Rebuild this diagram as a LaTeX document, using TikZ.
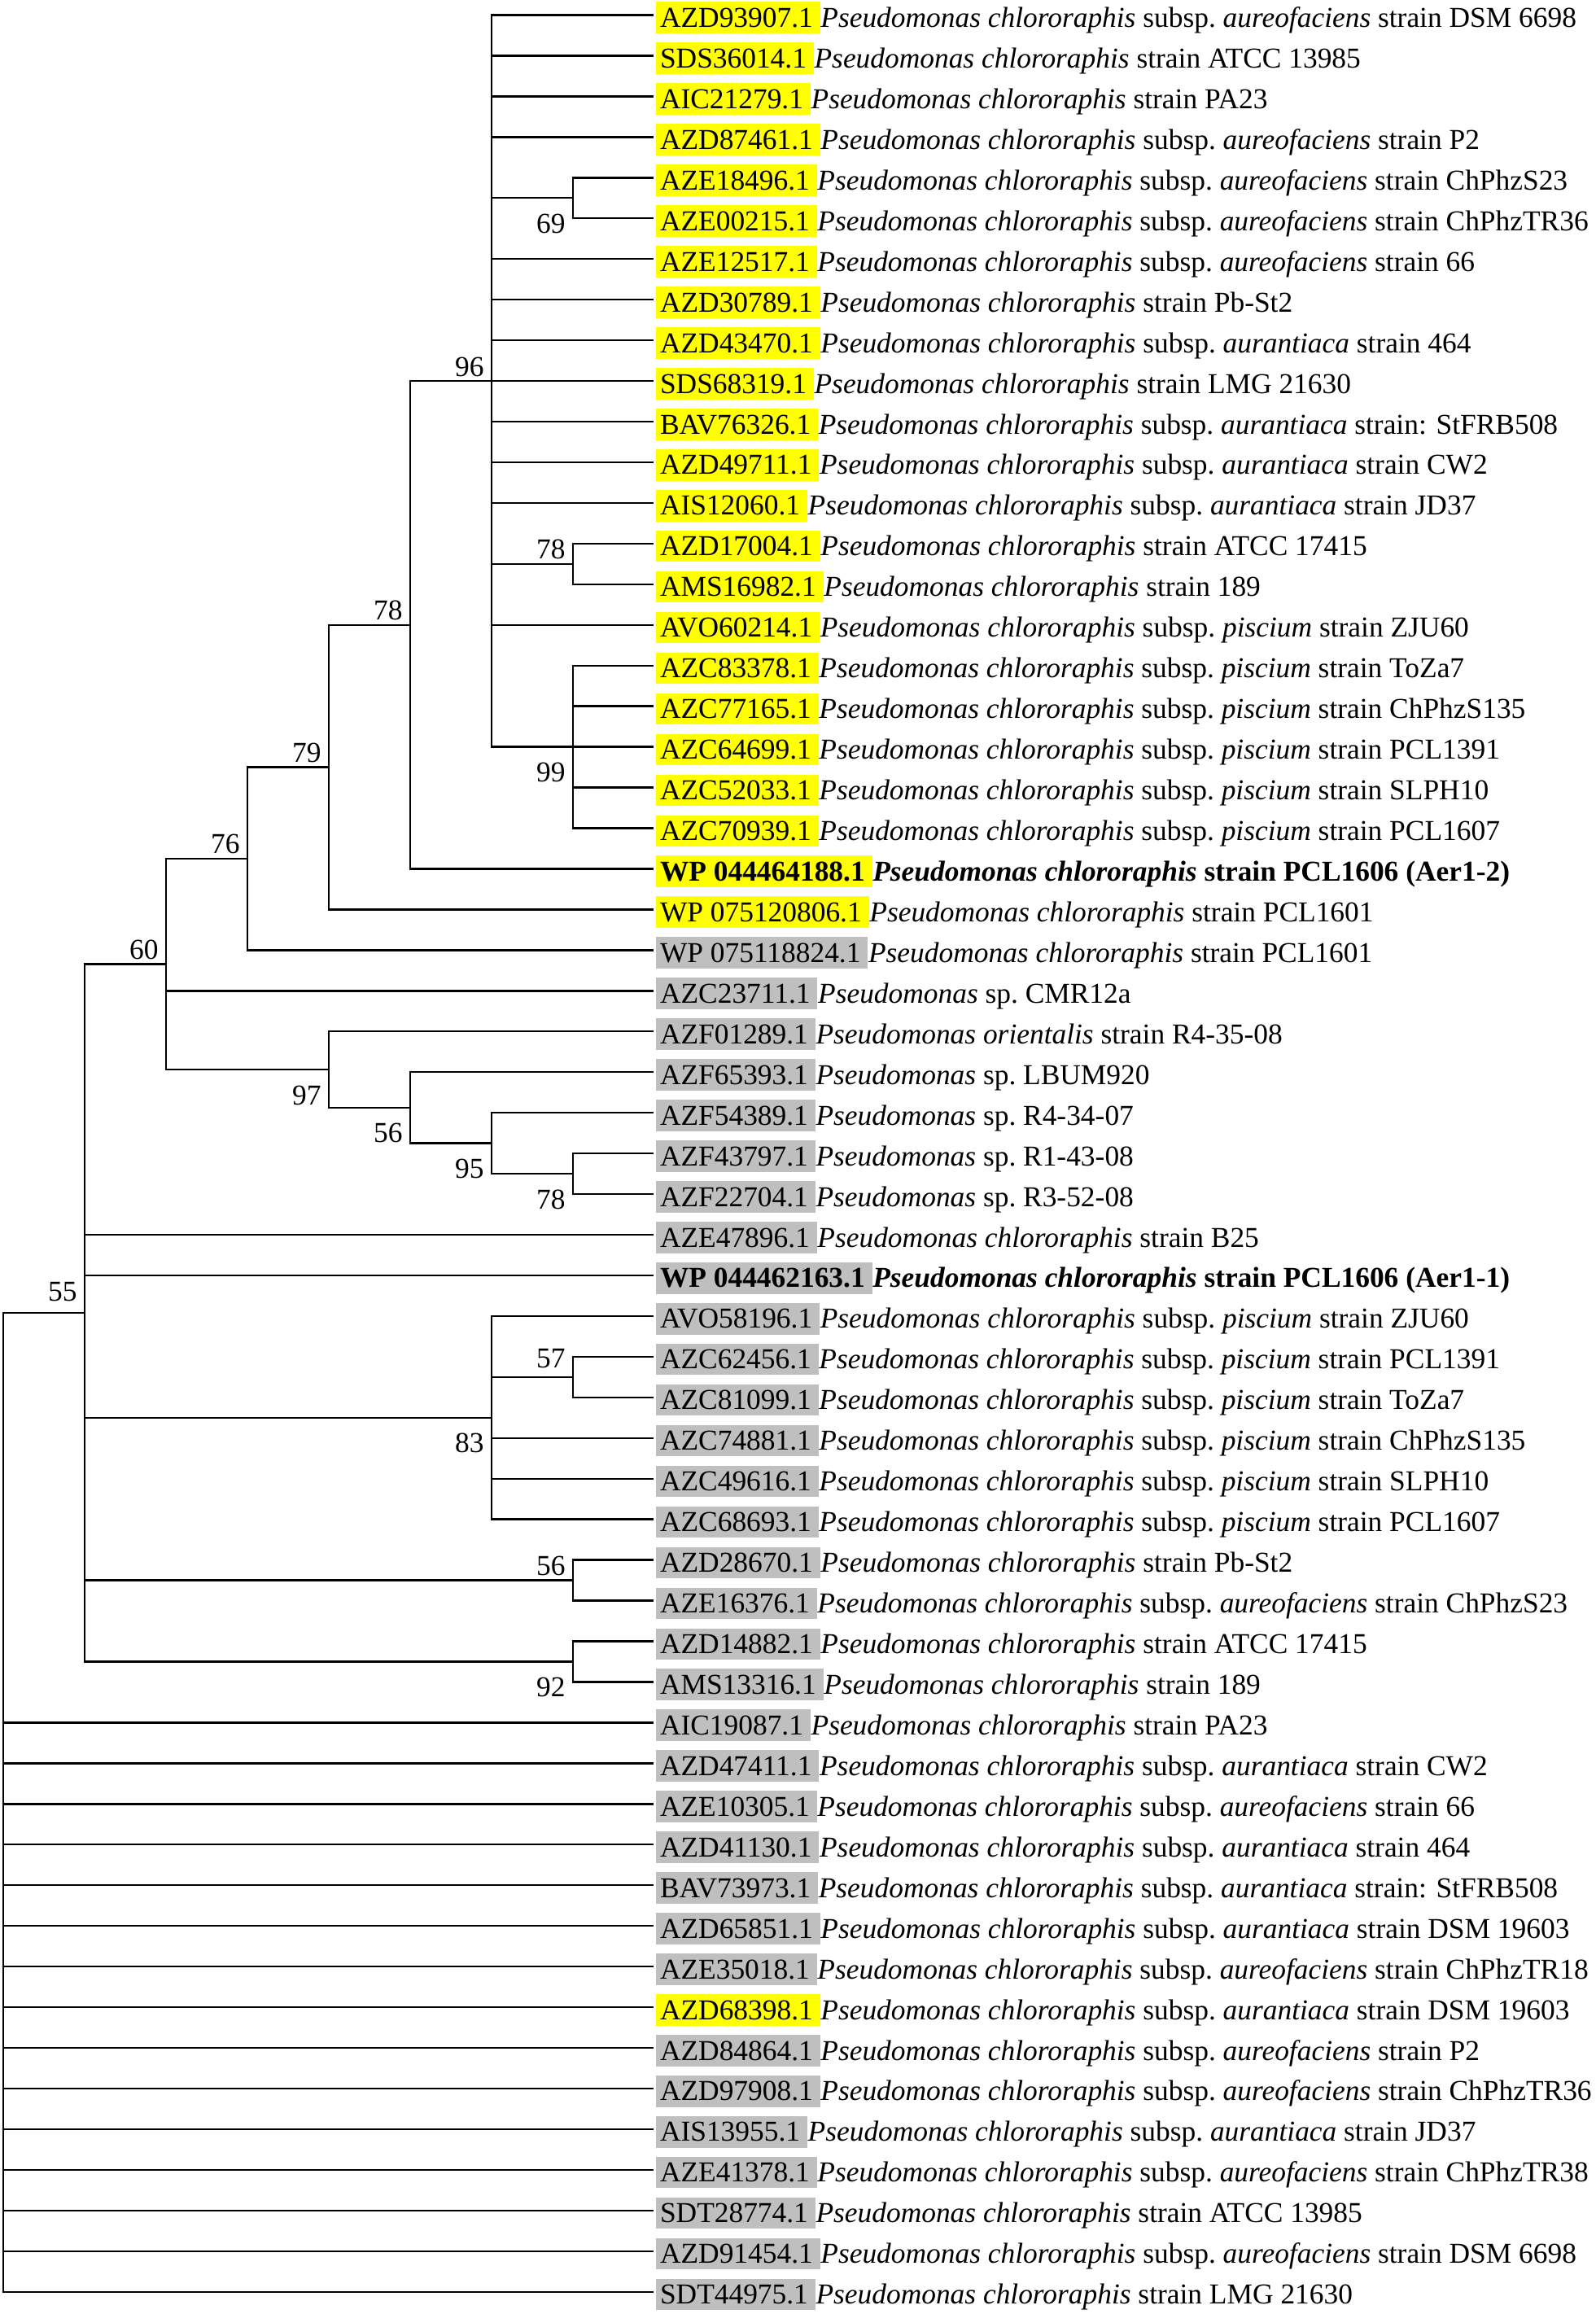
\documentclass[tikz,border=0pt]{standalone}
\usepackage{fontspec}
\setmainfont{Liberation Serif}
\usetikzlibrary{calc}

\definecolor{hlyellow}{RGB}{255,255,0}
\definecolor{hlgray}{RGB}{191,191,191}

\newcommand{\pchl}{\textit{Pseudomonas chlororaphis}}
\newcommand{\pseu}{\textit{Pseudomonas}}
\newcommand{\sspec}[1]{subsp.\ \textit{#1}}

\begin{document}
\begin{tikzpicture}[
    x=50pt, y=-24.975pt,
    font=\fontsize{17.7pt}{20pt}\selectfont,
    branch/.style={black,line width=1.2pt},
    accession/.style={anchor=base west,inner xsep=0pt,inner ysep=2pt,
      text height=13.5pt,text depth=1.8pt},
    taxon/.style={anchor=base west,inner sep=0pt},
    support/.style={anchor=base east,inner sep=0pt},
  ]
  \useasboundingbox (-0.04, 0.6296) rectangle (19.56, 57.5466);

  % Leaf tips, one per row
  \foreach \i in {1,...,57}
    \coordinate (L\i) at (7.99, \i);

  % Internal nodes (column, row)
  \coordinate (n69)  at (7, 5.5);
  \coordinate (n78a) at (7, 14.5);
  \coordinate (n99)  at (7, 19);
  \coordinate (n96)  at (6, 10);
  \coordinate (n78b) at (5, 16);
  \coordinate (n79)  at (4, 19.5);
  \coordinate (n76)  at (3, 21.75);
  \coordinate (n78c) at (7, 29.5);
  \coordinate (n95)  at (6, 28.75);
  \coordinate (n56a) at (5, 27.875);
  \coordinate (n97)  at (4, 26.9375);
  \coordinate (n60)  at (2, 24.34375);
  \coordinate (n57)  at (7, 34.5);
  \coordinate (n83)  at (6, 35.5);
  \coordinate (n56b) at (7, 39.5);
  \coordinate (n92)  at (7, 41.5);
  \coordinate (n55)  at (1, 32.921875);
  \coordinate (root) at (0, 44.96);

  % Clade 96
  \foreach \c in {L1,L2,L3,L4,n69,L7,L8,L9,L10,L11,L12,L13,n78a,L16,n99}
    \draw[branch] (n96) |- (\c);
  \foreach \c in {L5,L6}
    \draw[branch] (n69) |- (\c);
  \foreach \c in {L14,L15}
    \draw[branch] (n78a) |- (\c);
  \foreach \c in {17,...,21}
    \draw[branch] (n99) |- (L\c);

  % Backbone up to node 60
  \foreach \p/\c in {n78b/n96, n78b/L22, n79/n78b, n79/L23, n76/n79, n76/L24,
                     n60/n76, n60/L25, n60/n97, n97/L26, n97/n56a,
                     n56a/L27, n56a/n95, n95/L28, n95/n78c,
                     n78c/L29, n78c/L30}
    \draw[branch] (\p) |- (\c);

  % Node 55 and its clades
  \foreach \p/\c in {n55/n60, n55/L31, n55/L32, n55/n83, n55/n56b, n55/n92,
                     n83/L33, n83/n57, n83/L36, n83/L37, n83/L38,
                     n57/L34, n57/L35, n56b/L39, n56b/L40, n92/L41, n92/L42}
    \draw[branch] (\p) |- (\c);

  % Root
  \draw[branch] (root) |- (n55);
  \foreach \i in {43,...,57}
    \draw[branch] (root) |- (L\i);

  % Bootstrap values (above / below the branch)
  \foreach \n/\v/\dy in {n96/96/3, n78a/78/3, n78b/78/3, n79/79/3, n76/76/3,
                         n60/60/3, n55/55/7.3, n57/57/5.5, n56b/56/3}
    \node[support] (b\n) at ([xshift=-4.5pt,yshift=\dy pt] \n) {\v};
  \foreach \n/\v in {n69/69, n99/99, n97/97, n56a/56, n95/95, n78c/78,
                     n83/83, n92/92}
    \node[support] (b\n) at ([xshift=-4.5pt,yshift=-21.5pt] \n) {\v};

  % Leaf labels
  \foreach \i/\acc/\desc/\col in {
      1/AZD93907.1/{\pchl{} \sspec{aureofaciens} strain DSM 6698}/hlyellow,
      2/SDS36014.1/{\pchl{} strain ATCC 13985}/hlyellow,
      3/AIC21279.1/{\pchl{} strain PA23}/hlyellow,
      4/AZD87461.1/{\pchl{} \sspec{aureofaciens} strain P2}/hlyellow,
      5/AZE18496.1/{\pchl{} \sspec{aureofaciens} strain ChPhzS23}/hlyellow,
      6/AZE00215.1/{\pchl{} \sspec{aureofaciens} strain ChPhzTR36}/hlyellow,
      7/AZE12517.1/{\pchl{} \sspec{aureofaciens} strain 66}/hlyellow,
      8/AZD30789.1/{\pchl{} strain Pb-St2}/hlyellow,
      9/AZD43470.1/{\pchl{} \sspec{aurantiaca} strain 464}/hlyellow,
      10/SDS68319.1/{\pchl{} strain LMG 21630}/hlyellow,
      11/BAV76326.1/{\pchl{} \sspec{aurantiaca} strain: StFRB508}/hlyellow,
      12/AZD49711.1/{\pchl{} \sspec{aurantiaca} strain CW2}/hlyellow,
      13/AIS12060.1/{\pchl{} \sspec{aurantiaca} strain JD37}/hlyellow,
      14/AZD17004.1/{\pchl{} strain ATCC 17415}/hlyellow,
      15/AMS16982.1/{\pchl{} strain 189}/hlyellow,
      16/AVO60214.1/{\pchl{} \sspec{piscium} strain ZJU60}/hlyellow,
      17/AZC83378.1/{\pchl{} \sspec{piscium} strain ToZa7}/hlyellow,
      18/AZC77165.1/{\pchl{} \sspec{piscium} strain ChPhzS135}/hlyellow,
      19/AZC64699.1/{\pchl{} \sspec{piscium} strain PCL1391}/hlyellow,
      20/AZC52033.1/{\pchl{} \sspec{piscium} strain SLPH10}/hlyellow,
      21/AZC70939.1/{\pchl{} \sspec{piscium} strain PCL1607}/hlyellow,
      22/{\bfseries WP 044464188.1}/{\bfseries\pchl{} strain PCL1606 (Aer1-2)}/hlyellow,
      23/{WP 075120806.1}/{\pchl{} strain PCL1601}/hlyellow,
      24/{WP 075118824.1}/{\pchl{} strain PCL1601}/hlgray,
      25/AZC23711.1/{\pseu{} sp.\ CMR12a}/hlgray,
      26/AZF01289.1/{\textit{Pseudomonas orientalis} strain R4-35-08}/hlgray,
      27/AZF65393.1/{\pseu{} sp.\ LBUM920}/hlgray,
      28/AZF54389.1/{\pseu{} sp.\ R4-34-07}/hlgray,
      29/AZF43797.1/{\pseu{} sp.\ R1-43-08}/hlgray,
      30/AZF22704.1/{\pseu{} sp.\ R3-52-08}/hlgray,
      31/AZE47896.1/{\pchl{} strain B25}/hlgray,
      32/{\bfseries WP 044462163.1}/{\bfseries\pchl{} strain PCL1606 (Aer1-1)}/hlgray,
      33/AVO58196.1/{\pchl{} \sspec{piscium} strain ZJU60}/hlgray,
      34/AZC62456.1/{\pchl{} \sspec{piscium} strain PCL1391}/hlgray,
      35/AZC81099.1/{\pchl{} \sspec{piscium} strain ToZa7}/hlgray,
      36/AZC74881.1/{\pchl{} \sspec{piscium} strain ChPhzS135}/hlgray,
      37/AZC49616.1/{\pchl{} \sspec{piscium} strain SLPH10}/hlgray,
      38/AZC68693.1/{\pchl{} \sspec{piscium} strain PCL1607}/hlgray,
      39/AZD28670.1/{\pchl{} strain Pb-St2}/hlgray,
      40/AZE16376.1/{\pchl{} \sspec{aureofaciens} strain ChPhzS23}/hlgray,
      41/AZD14882.1/{\pchl{} strain ATCC 17415}/hlgray,
      42/AMS13316.1/{\pchl{} strain 189}/hlgray,
      43/AIC19087.1/{\pchl{} strain PA23}/hlgray,
      44/AZD47411.1/{\pchl{} \sspec{aurantiaca} strain CW2}/hlgray,
      45/AZE10305.1/{\pchl{} \sspec{aureofaciens} strain 66}/hlgray,
      46/AZD41130.1/{\pchl{} \sspec{aurantiaca} strain 464}/hlgray,
      47/BAV73973.1/{\pchl{} \sspec{aurantiaca} strain: StFRB508}/hlgray,
      48/AZD65851.1/{\pchl{} \sspec{aurantiaca} strain DSM 19603}/hlgray,
      49/AZE35018.1/{\pchl{} \sspec{aureofaciens} strain ChPhzTR18}/hlgray,
      50/AZD68398.1/{\pchl{} \sspec{aurantiaca} strain DSM 19603}/hlyellow,
      51/AZD84864.1/{\pchl{} \sspec{aureofaciens} strain P2}/hlgray,
      52/AZD97908.1/{\pchl{} \sspec{aureofaciens} strain ChPhzTR36}/hlgray,
      53/AIS13955.1/{\pchl{} \sspec{aurantiaca} strain JD37}/hlgray,
      54/AZE41378.1/{\pchl{} \sspec{aureofaciens} strain ChPhzTR38}/hlgray,
      55/SDT28774.1/{\pchl{} strain ATCC 13985}/hlgray,
      56/AZD91454.1/{\pchl{} \sspec{aureofaciens} strain DSM 6698}/hlgray,
      57/SDT44975.1/{\pchl{} strain LMG 21630}/hlgray}
  {
    \node[accession,fill=\col] (a\i) at ([xshift=1.5pt,yshift=-7.5pt] L\i)
      {\kern2.3pt\acc\kern4.4pt};
    \node[taxon] (d\i) at (a\i.base east) {\desc};
  }
\end{tikzpicture}
\end{document}
